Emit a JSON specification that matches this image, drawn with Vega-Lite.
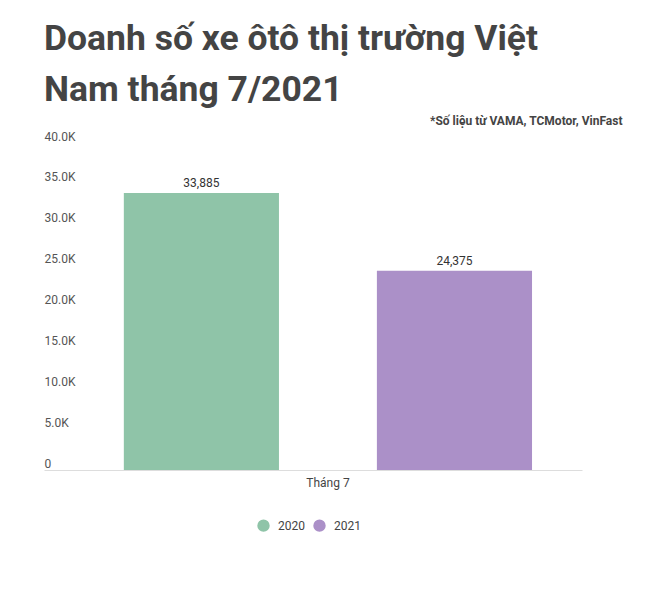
{
  "$schema": "https://vega.github.io/schema/vega-lite/v6.json",
  "autosize": "none",
  "padding": {"left": 44, "top": 143, "right": 78, "bottom": 122},
  "width": 538,
  "height": 327,
  "background": "white",
  "view": {"stroke": null},
  "config": {"font": "Roboto"},
  "title": {
    "text": ["Doanh số xe ôtô thị trường Việt", "Nam tháng 7/2021"],
    "anchor": "start",
    "frame": "group",
    "font": "Roboto",
    "fontSize": 35.5,
    "fontWeight": "bold",
    "color": "#444444",
    "lineHeight": 51,
    "offset": 6
  },
  "data": {
    "values": [
      {"thang": "Tháng 7", "nam": "2020", "xe": 33885},
      {"thang": "Tháng 7", "nam": "2021", "xe": 24375}
    ]
  },
  "encoding": {
    "x": {
      "field": "thang",
      "type": "nominal",
      "scale": {"paddingInner": 0, "paddingOuter": 0.159, "align": 0.615}
    },
    "xOffset": {
      "field": "nam",
      "type": "nominal",
      "scale": {"paddingInner": 0.387, "paddingOuter": 0}
    },
    "y": {
      "field": "xe",
      "type": "quantitative",
      "scale": {"domain": [0, 40000], "nice": false}
    }
  },
  "layer": [
    {
      "mark": {"type": "bar"},
      "encoding": {
        "x": {
          "field": "thang",
          "type": "nominal",
          "axis": {
            "orient": "bottom",
            "title": null,
            "labelAngle": 0,
            "ticks": false,
            "domainColor": "#dddddd",
            "labelColor": "#444444",
            "labelFontSize": 12,
            "labelPadding": 7
          }
        },
        "y": {
          "field": "xe",
          "type": "quantitative",
          "axis": {
            "title": null,
            "grid": false,
            "domain": false,
            "ticks": false,
            "values": [0, 5000, 10000, 15000, 20000, 25000, 30000, 35000, 40000],
            "labelExpr": "datum.value == 0 ? '0' : format(datum.value / 1000, '.1f') + 'K'",
            "labelAlign": "left",
            "labelBaseline": "alphabetic",
            "labelPadding": 0,
            "labelOffset": -3,
            "labelColor": "#555555",
            "labelFontSize": 12
          }
        },
        "color": {
          "field": "nam",
          "type": "nominal",
          "scale": {"domain": ["2020", "2021"], "range": ["#8fc4a8", "#ab90c8"]},
          "legend": {
            "title": null,
            "orient": "none",
            "direction": "horizontal",
            "legendX": 213,
            "legendY": 376,
            "symbolType": "circle",
            "symbolSize": 154,
            "symbolStrokeWidth": 0,
            "symbolOpacity": 1,
            "labelFontSize": 12,
            "labelColor": "#444444",
            "labelOffset": 8,
            "columnPadding": 8
          }
        }
      }
    },
    {
      "mark": {"type": "text", "baseline": "bottom", "dy": -3, "fontSize": 12, "color": "#333333"},
      "encoding": {
        "x": {
          "field": "thang",
          "type": "nominal",
          "axis": {
            "orient": "top",
            "labels": false,
            "ticks": false,
            "domain": false,
            "title": "*Số liệu từ VAMA, TCMotor, VinFast",
            "titleFontSize": 12,
            "titleFontWeight": "bold",
            "titleColor": "#444444",
            "titleAlign": "right",
            "titleBaseline": "alphabetic",
            "titleX": 578,
            "titleY": -19
          }
        },
        "text": {"field": "xe", "type": "quantitative", "format": ","}
      }
    }
  ],
  "resolve": {"axis": {"x": "independent"}}
}
